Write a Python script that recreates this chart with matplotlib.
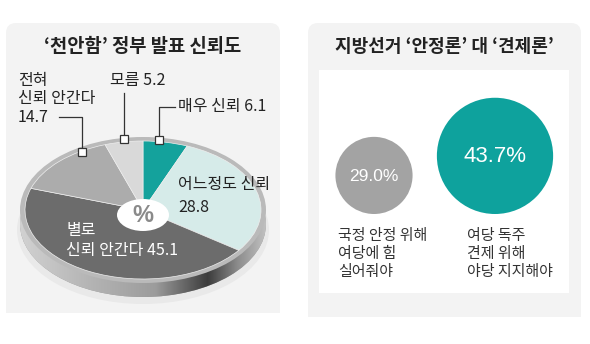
import numpy as np
import matplotlib
matplotlib.use("Agg")
import matplotlib.pyplot as plt
from matplotlib.patches import Ellipse, Circle, FancyBboxPatch, Rectangle
from matplotlib.colors import LinearSegmentedColormap

plt.rcParams['font.family'] = ['Noto Sans CJK KR', 'DejaVu Sans']

# left chart: trust in the Cheonan government announcement (%)
pie_labels = ["매우 신뢰", "어느정도 신뢰", "별로\n신뢰 안간다", "전혀\n신뢰 안간다", "모름"]
pie_values = [6.1, 28.8, 45.1, 14.7, 5.2]
pie_colors = ["#14a29c", "#d6ebe9", "#6c6c6c", "#acacac", "#d9d9d9"]

# right chart: local election, stability vs check (%)
bubble_labels = ["국정 안정 위해\n여당에 힘\n실어줘야", "여당 독주\n견제 위해\n야당 지지해야"]
bubble_values = [29.0, 43.7]
bubble_colors = ["#a3a3a3", "#0ea29d"]

W, H = 590, 344
fig = plt.figure(figsize=(W / 100, H / 100), dpi=100)
fig.patch.set_facecolor("white")

bg = fig.add_axes([0, 0, 1, 1], zorder=0)
bg.set_xlim(0, W)
bg.set_ylim(H, 0)
bg.axis("off")

# panel backgrounds
for x0, x1, y1 in [(6, 280, 313), (308, 581, 317)]:
    bg.add_patch(FancyBboxPatch((x0 + 10, 33), x1 - x0 - 20, y1 - 43,
                                boxstyle="round,pad=10", fc="#f3f3f3", ec="none"))
    bg.add_patch(Rectangle((x0, 60), x1 - x0, y1 - 60, fc="#f3f3f3", ec="none"))
bg.add_patch(Rectangle((319, 70), 250, 223, fc="white", ec="none"))

bg.text(143, 47, "‘천안함’ 정부 발표 신뢰도", ha="center", va="center",
        fontsize=13.5, fontweight="bold", color="#222222")
bg.text(444, 47, "지방선거 ‘안정론’ 대 ‘견제론’", ha="center", va="center",
        fontsize=13, fontweight="bold", color="#222222")

# bubbles: radius proportional to value, bottoms aligned
k = 1.33
base_y = 214
bubble_x = [374, 495]
label_x = [338, 467]
for i, v in enumerate(bubble_values):
    r = v * k
    cy = base_y - r
    bg.add_patch(Circle((bubble_x[i], cy), r, fc=bubble_colors[i], ec="none"))
    bg.text(bubble_x[i], cy + 1, f"{v:.1f}%", ha="center", va="center",
            color="white", fontsize=12.5 if i == 0 else 16, family="Liberation Sans")
    bg.text(label_x[i], 229, bubble_labels[i], ha="left", va="top",
            fontsize=10.8, color="#333333", linespacing=1.35)

# pie drawn in its own axes, squashed to look like a disc
cx, cy = 143, 210
sx, sy = 118, 69
px0, px1, py0, py1 = 10, 276, 126, 314
pa = fig.add_axes([px0 / W, 1 - py1 / H, (px1 - px0) / W, (py1 - py0) / H], zorder=1)
pa.patch.set_alpha(0)

shadow = Ellipse((0, -20 / sy), 2 * 126 / sx, 2 * 74 / sy, fc="#e9e9e9", ec="none", zorder=0)
pa.add_patch(shadow)
side = Ellipse((0, -14 / sy), 2 * 123 / sx, 2 * 73 / sy, fc="#999999", ec="none", zorder=1)
pa.add_patch(side)
cmap = LinearSegmentedColormap.from_list("side", [(0, "#d2d2d2"), (0.3, "#b3b3b3"),
                                                  (0.55, "#9c9c9c"), (0.76, "#3c3c3c"),
                                                  (0.88, "#8c8c8c"), (1, "#c4c4c4")])
grad = np.linspace(0, 1, 256).reshape(1, -1)
img = pa.imshow(grad, cmap=cmap, extent=(-125 / sx, 125 / sx, -1.4, 0.6),
                aspect="auto", zorder=1)
img.set_clip_path(side)
pa.add_patch(Ellipse((0, 0), 2 * 123 / sx, 2 * 73 / sy, fc="#bababa", ec="none", zorder=2))

wedges, _ = pa.pie(pie_values, colors=pie_colors, startangle=90, counterclock=False,
                   radius=1, wedgeprops=dict(linewidth=0.5, edgecolor="#eeeeee"))
for w in wedges:
    w.set_zorder(3)
pa.add_patch(Ellipse((0, -5 / sy), 52 / sx, 32 / sy, fc="white", ec="none", zorder=4))
pa.text(0, -5 / sy, "%", ha="center", va="center", fontsize=17, fontweight="bold",
        color="#8a8a8a", zorder=5, family="Liberation Sans")
pa.set_xlim((px0 - cx) / sx, (px1 - cx) / sx)
pa.set_ylim(-(py1 - cy) / sy, (cy - py0) / sy)
pa.set_aspect("auto")
pa.axis("off")

# labels and leader lines on top
ov = fig.add_axes([0, 0, 1, 1], zorder=2)
ov.set_xlim(0, W)
ov.set_ylim(H, 0)
ov.axis("off")
ov.patch.set_alpha(0)

txt = dict(fontsize=11.5, color="#222222", va="center", ha="left", fontweight="medium")
ov.text(18, 81, pie_labels[3].split("\n")[0], **txt)
ov.text(18, 99, pie_labels[3].split("\n")[1], **txt)
ov.text(18, 118, f"{pie_values[3]}", **txt)
ov.plot([59, 82, 82], [117, 117, 152], color="#333333", lw=0.9)
ov.plot([82], [152], marker="s", ms=6, mfc="white", mec="#333333", mew=0.9)

ov.text(110, 80, f"{pie_labels[4]} {pie_values[4]}", **txt)
ov.plot([124, 124], [93, 139], color="#333333", lw=0.9)
ov.plot([124], [139], marker="s", ms=6, mfc="white", mec="#333333", mew=0.9)

ov.text(178, 107, f"{pie_labels[0]} {pie_values[0]}", **txt)
ov.plot([175, 159, 159], [107, 107, 140], color="#333333", lw=0.9)
ov.plot([159], [140], marker="s", ms=6, mfc="white", mec="#333333", mew=0.9)

ov.text(178, 185, pie_labels[1], **txt)
ov.text(178, 207, f"{pie_values[1]}", **txt)

wtxt = dict(txt, color="white")
ov.text(66, 230, pie_labels[2].split("\n")[0], **wtxt)
ov.text(66, 250, f"{pie_labels[2].split(chr(10))[1]} {pie_values[2]}", **wtxt)

fig.savefig("out.png", dpi=100)
